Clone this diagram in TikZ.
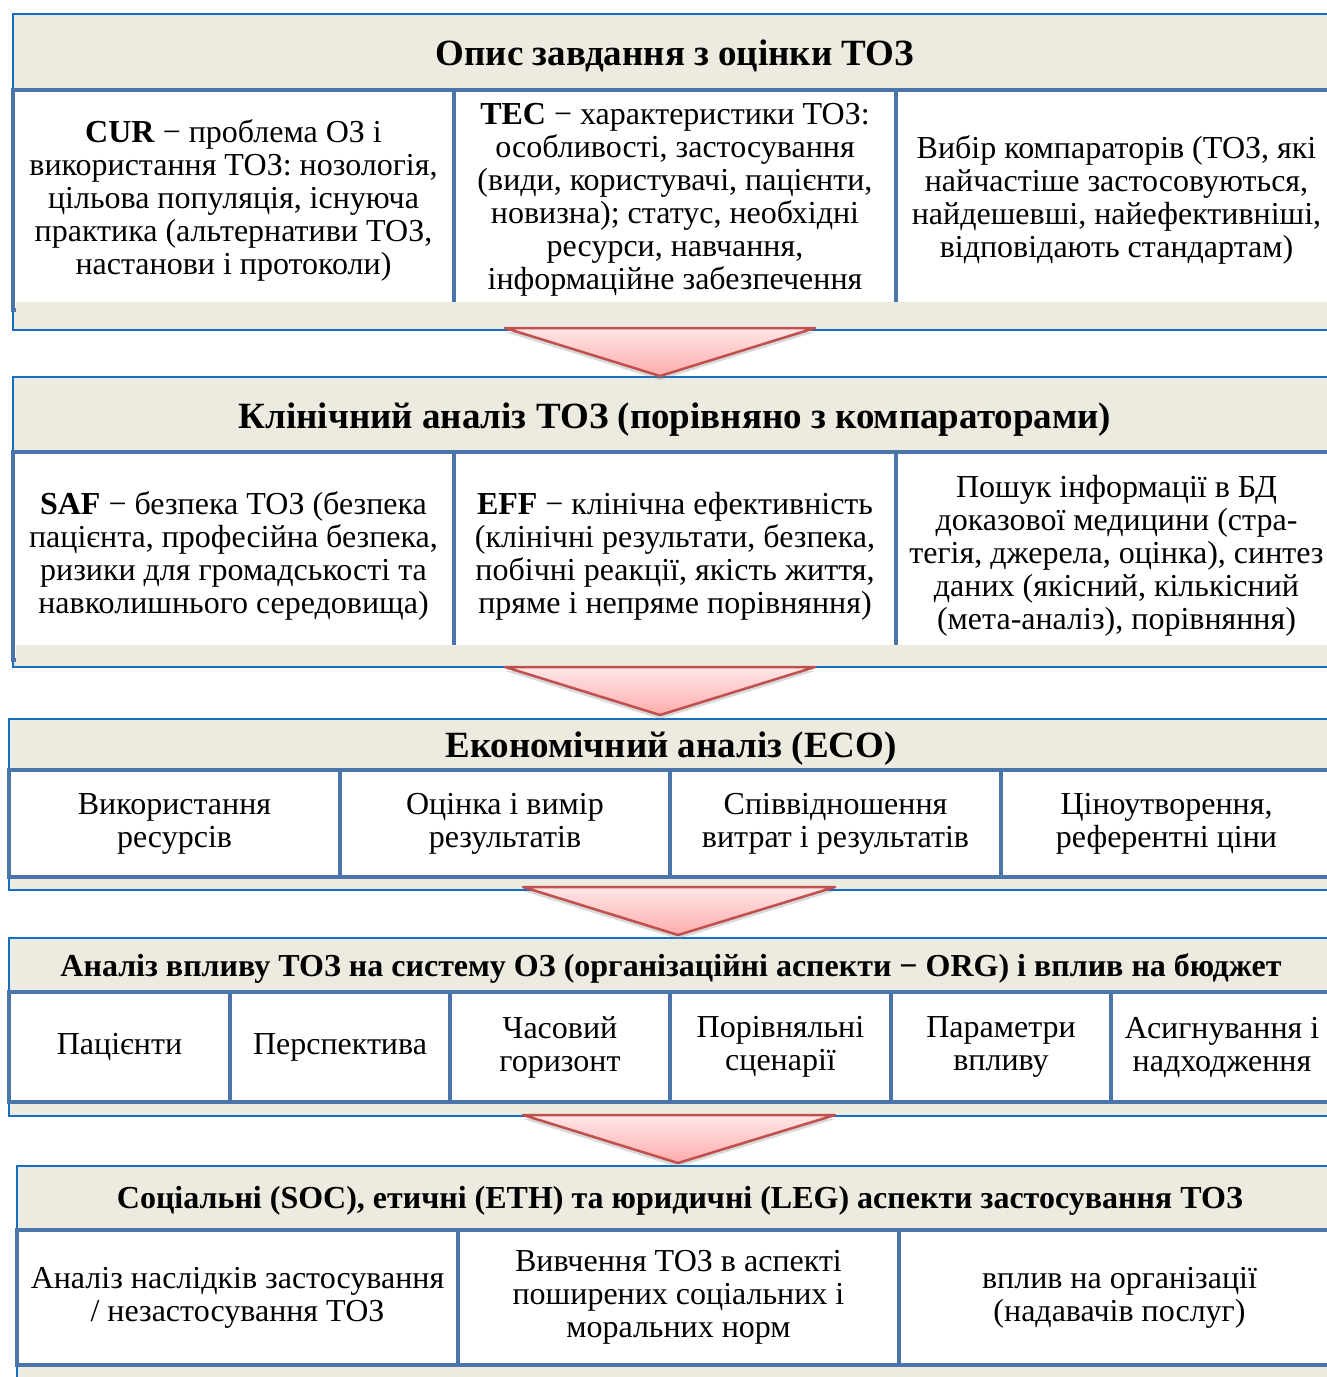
\documentclass[tikz,border=0pt]{standalone}
\usepackage{fontspec}
\setmainfont{Liberation Serif}
\usetikzlibrary{positioning,shadows}

\definecolor{bandfill}{RGB}{237,234,223}
\definecolor{bandline}{RGB}{20,110,195}
\definecolor{cellline}{RGB}{74,118,172}
\definecolor{arrline}{RGB}{192,80,77}
\definecolor{arrtop}{RGB}{255,230,230}
\definecolor{arrbot}{RGB}{255,172,172}

\begin{document}
\begin{tikzpicture}[x=1pt,y=-1pt,
  band/.style={draw=bandline,line width=1.5pt,fill=bandfill,anchor=north west,
    inner sep=0pt,outer sep=0pt,minimum width=1330pt},
  cell/.style={draw=cellline,line width=4.5pt,fill=white,inner sep=0pt,outer sep=0pt,
    align=center,node distance=0pt,font=\fontsize{32}{33}\selectfont},
  head/.style={inner sep=0pt,anchor=base,font=\bfseries\fontsize{37}{40}\selectfont},
  strip/.style={fill=bandfill},
  tri/.style={draw=arrline,line width=2.5pt,line join=round,top color=arrtop,
    bottom color=arrbot,drop shadow={opacity=0.3,shadow xshift=0pt,shadow yshift=-4pt}}]

  \path[use as bounding box] (0,0) rectangle (1327,1377);
  \clip (0,0) rectangle (1327,1377);

  % task description
  \node[band,minimum height=316pt] (band1) at (13,14) {};
  \node[head] (h1) at (675,65) {Опис завдання з оцінки ТОЗ};
  \node[cell,minimum width=441pt,minimum height=220pt,anchor=north west] (cur) at (13,90)
    {\textbf{CUR} − проблема ОЗ і\\використання ТОЗ: нозологія,\\цільова популяція, існуюча\\практика (альтернативи ТОЗ,\\настанови і протоколи)};
  \node[cell,minimum width=442pt,minimum height=220pt] (tec) [right = of cur]
    {\textbf{TEC} − характеристики ТОЗ:\\особливості, застосування\\(види, користувачі, пацієнти,\\новизна); статус, необхідні\\ресурси, навчання,\\інформаційне забезпечення};
  \node[cell,minimum width=441pt,minimum height=220pt] (comp) [right = of tec]
    {Вибір компараторів (ТОЗ, які\\найчастіше застосовуються,\\найдешевші, найефективніші,\\відповідають стандартам)};
  \fill[strip] (15.5,302) rectangle (1340,325);

  % clinical analysis
  \node[band,minimum height=290pt] (band2) at (13,377) {};
  \node[head] (h2) at (675,428) {Клінічний аналіз ТОЗ (порівняно з компараторами)};
  \node[cell,minimum width=441pt,minimum height=208pt,anchor=north west] (saf) at (13,452)
    {\textbf{SAF} − безпека ТОЗ (безпека\\пацієнта, професійна безпека,\\ризики для громадськості та\\навколишнього середовища)};
  \node[cell,minimum width=442pt,minimum height=208pt] (eff) [right = of saf]
    {\textbf{EFF} − клінічна ефективність\\(клінічні результати, безпека,\\побічні реакції, якість життя,\\пряме і непряме порівняння)};
  \node[cell,minimum width=441pt,minimum height=208pt] (search) [right = of eff]
    {Пошук інформації в БД\\доказової медицини (стра-\\тегія, джерела, оцінка), синтез\\даних (якісний, кількісний\\(мета-аналіз), порівняння)};
  \fill[strip] (15.5,645) rectangle (1340,662);

  % economic analysis
  \node[band,minimum height=171pt] (band3) at (9,719) {};
  \node[head] (h3) at (671,757) {Економічний аналіз (ECO)};
  \node[cell,minimum width=331pt,minimum height=107pt,anchor=north west] (res) at (9,770)
    {Використання\\ресурсів};
  \node[cell,minimum width=330pt,minimum height=107pt] (outc) [right = of res]
    {Оцінка і вимір\\результатів};
  \node[cell,minimum width=331pt,minimum height=107pt] (ratio) [right = of outc]
    {Співвідношення\\витрат і результатів};
  \node[cell,minimum width=331pt,minimum height=107pt] (price) [right = of ratio]
    {Ціноутворення,\\референтні ціни};

  % organisational aspects and budget
  \node[band,minimum height=178pt] (band4) at (9,938) {};
  \node[head,font=\bfseries\fontsize{32}{35}\selectfont] (h4) at (671,976)
    {Аналіз впливу ТОЗ на систему ОЗ (організаційні аспекти − ORG) і вплив на бюджет};
  \node[cell,minimum width=221pt,minimum height=110pt,anchor=north west] (pat) at (9,992)
    {Пацієнти};
  \node[cell,minimum width=220pt,minimum height=110pt] (persp) [right = of pat]
    {Перспектива};
  \node[cell,minimum width=220pt,minimum height=110pt] (hor) [right = of persp]
    {Часовий\\горизонт};
  \node[cell,minimum width=221pt,minimum height=110pt] (scen) [right = of hor]
    {Порівняльні\\сценарії};
  \node[cell,minimum width=220pt,minimum height=110pt] (par) [right = of scen]
    {Параметри\\впливу};
  \node[cell,minimum width=222pt,minimum height=110pt] (alloc) [right = of par]
    {Асигнування і\\надходження};

  % social, ethical and legal aspects
  \node[band,minimum height=230pt] (band5) at (17,1166) {};
  \node[head,font=\bfseries\fontsize{32}{35}\selectfont] (h5) at (680,1208)
    {Соціальні (SOC), етичні (ETH) та юридичні (LEG) аспекти застосування ТОЗ};
  \node[cell,minimum width=441pt,minimum height=135pt,anchor=north west] (cons) at (17,1230)
    {Аналіз наслідків застосування\\/ незастосування ТОЗ};
  \node[cell,minimum width=441pt,minimum height=135pt] (norms) [right = of cons]
    {Вивчення ТОЗ в аспекті\\поширених соціальних і\\моральних норм};
  \node[cell,minimum width=441pt,minimum height=135pt] (org) [right = of norms]
    {вплив на організації\\(надавачів послуг)};

  % arrows between the stages
  \draw[tri] (505,328) -- (815,328) -- (660,376) -- cycle;
  \draw[tri] (505,667) -- (815,667) -- (660,715) -- cycle;
  \draw[tri] (523,887) -- (835,887) -- (678,935) -- cycle;
  \draw[tri] (523,1115) -- (835,1115) -- (678,1163) -- cycle;
\end{tikzpicture}
\end{document}
